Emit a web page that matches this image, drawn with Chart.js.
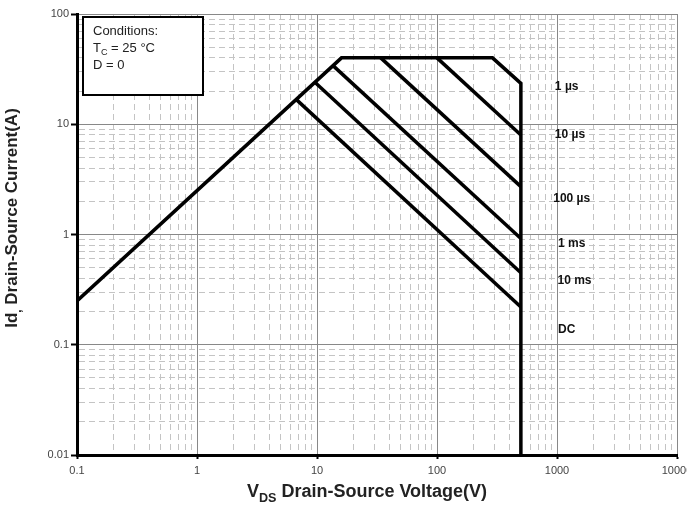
<!DOCTYPE html>
<html>
<head>
<meta charset="utf-8">
<script src="https://cdn.jsdelivr.net/npm/chart.js@4/dist/chart.umd.min.js"></script>
<style>
  html, body { margin: 0; padding: 0; background: #fff; }
</style>
</head>
<body>
<canvas id="soaChart" width="687" height="508"></canvas>
<script>
// limite de area segura (V, A)
const limiteV = [0.1, 16, 290, 500, 500];
const limiteI = [0.25, 40, 40, 23.5, 0.01];

// lineas de pulso
const pulsos = ['1 µs', '10 µs', '100 µs', '1 ms', '10 ms'];
const pulsoV = [[100, 500], [34, 500], [13.6, 500], [9.6, 500], [6.7, 500]];
const pulsoI = [[40, 8], [40, 2.72], [34, 0.92], [24, 0.45], [16.8, 0.22]];

// etiquetas a la derecha
const etiquetas = ['1 µs', '10 µs', '100 µs', '1 ms', '10 ms', 'DC'];
const etiquetaV = [960, 960, 930, 1020, 1010, 1020];
const etiquetaI = [22, 8.1, 2.1, 0.83, 0.38, 0.137];

const ticksX = [0.1, 1, 10, 100, 1000, 10000];
const ticksXLabels = ['0.1', '1', '10', '100', '1000', '10000'];
const ticksY = [0.01, 0.1, 1, 10, 100];
const ticksYLabels = ['0.01', '0.1', '1', '10', '100'];
const mantisas = [1, 2, 3, 4, 5, 6, 7, 8, 9];

function construirTicks(mayores) {
  const lista = [];
  for (let i = 0; i < mayores.length - 1; i++) {
    mantisas.forEach((m, j) => {
      lista.push({ value: m * mayores[i], mayor: j === 0, idx: i });
    });
  }
  lista.push({ value: mayores[mayores.length - 1], mayor: true, idx: mayores.length - 1 });
  return lista;
}

function esMayor(ctx) {
  return ctx.tick && ctx.tick.mayor;
}

function opcionesEje(mayores, textos, tickLen, pad) {
  return {
    type: 'logarithmic',
    min: mayores[0],
    max: mayores[mayores.length - 1],
    afterBuildTicks: (scale) => { scale.ticks = construirTicks(mayores); },
    ticks: {
      autoSkip: false,
      maxRotation: 0,
      padding: pad,
      color: '#444',
      font: { family: 'Arial, "Liberation Sans", sans-serif', size: 11 },
      callback: function (value, index, ticks) {
        const t = ticks[index];
        return t && t.mayor ? textos[t.idx] : '';
      }
    },
    grid: {
      color: (ctx) => esMayor(ctx) ? '#888' : '#c4c4c4',
      lineWidth: 1,
      tickLength: tickLen,
      tickWidth: 2,
      tickColor: (ctx) => esMayor(ctx) ? '#000' : 'rgba(0,0,0,0)'
    },
    border: {
      display: true,
      color: '#000',
      width: 3,
      dash: (ctx) => esMayor(ctx) || !ctx.tick ? [] : [6, 4]
    }
  };
}

function textoConSub(ctx, partes, x, y, size, align) {
  // partes: [texto, esSub, peso]
  let ancho = 0;
  partes.forEach(p => {
    ctx.font = (p[2] || '') + ' ' + (p[1] ? size * 0.7 : size) + 'px Arial, "Liberation Sans", sans-serif';
    ancho += ctx.measureText(p[0]).width;
  });
  let cx = align === 'center' ? x - ancho / 2 : x;
  partes.forEach(p => {
    ctx.font = (p[2] || '') + ' ' + (p[1] ? size * 0.7 : size) + 'px Arial, "Liberation Sans", sans-serif';
    ctx.textAlign = 'left';
    ctx.textBaseline = 'alphabetic';
    ctx.fillText(p[0], cx, p[1] ? y + size * 0.25 : y);
    cx += ctx.measureText(p[0]).width;
  });
}

const textosPlugin = {
  id: 'textosSoa',
  afterDatasetsDraw(chart) {
    const ctx = chart.ctx;
    const xs = chart.scales.x;
    const ys = chart.scales.y;
    ctx.save();

    // caja de condiciones
    ctx.fillStyle = '#fff';
    ctx.fillRect(83, 17, 120, 78);
    ctx.strokeStyle = '#000';
    ctx.lineWidth = 2;
    ctx.strokeRect(83, 17, 120, 78);
    ctx.fillStyle = '#222';
    textoConSub(ctx, [['Conditions:']], 93, 35, 13, 'left');
    textoConSub(ctx, [['T'], ['C', true], [' = 25 °C']], 93, 52, 13, 'left');
    textoConSub(ctx, [['D = 0']], 93, 69, 13, 'left');

    // etiquetas de pulso
    ctx.fillStyle = '#111';
    ctx.font = 'bold 12px Arial, "Liberation Sans", sans-serif';
    ctx.textAlign = 'left';
    ctx.textBaseline = 'middle';
    etiquetas.forEach((t, i) => {
      ctx.fillText(t, xs.getPixelForValue(etiquetaV[i]), ys.getPixelForValue(etiquetaI[i]));
    });

    // titulos de ejes
    ctx.fillStyle = '#222';
    textoConSub(ctx, [['V', false, 'bold'], ['DS', true, 'bold'], [' Drain-Source Voltage(V)', false, 'bold']], 367, 497, 18, 'center');
    ctx.translate(17, 218);
    ctx.rotate(-Math.PI / 2);
    textoConSub(ctx, [['Id', false, 'bold'], [',', true, 'bold'], [' Drain-Source Current(A)', false, 'bold']], 0, 0, 17, 'center');
    ctx.restore();
  }
};

const datasets = [{
  data: limiteV.map((v, i) => ({ x: v, y: limiteI[i] })),
  showLine: true,
  borderColor: '#000',
  borderWidth: 3.5,
  pointRadius: 0,
  fill: false
}];
pulsos.forEach((p, k) => {
  datasets.push({
    label: p,
    data: pulsoV[k].map((v, i) => ({ x: v, y: pulsoI[k][i] })),
    showLine: true,
    borderColor: '#000',
    borderWidth: 3.5,
    pointRadius: 0,
    fill: false
  });
});

const ejeX = opcionesEje(ticksX, ticksXLabels, 4, 5);
ejeX.afterFit = (scale) => { scale.height = 53; scale.paddingLeft = 0; scale.paddingRight = 0; };
const ejeY = opcionesEje(ticksY, ticksYLabels, 6, 2);
ejeY.afterFit = (scale) => { scale.width = 77; scale.paddingTop = 0; scale.paddingBottom = 0; };

new Chart(document.getElementById('soaChart').getContext('2d'), {
  type: 'scatter',
  data: { datasets },
  options: {
    responsive: false,
    animation: false,
    layout: { padding: { top: 14, right: 10, left: 0, bottom: 0 } },
    plugins: { legend: { display: false }, tooltip: { enabled: false } },
    scales: { x: ejeX, y: ejeY }
  },
  plugins: [textosPlugin]
});
</script>
</body>
</html>
